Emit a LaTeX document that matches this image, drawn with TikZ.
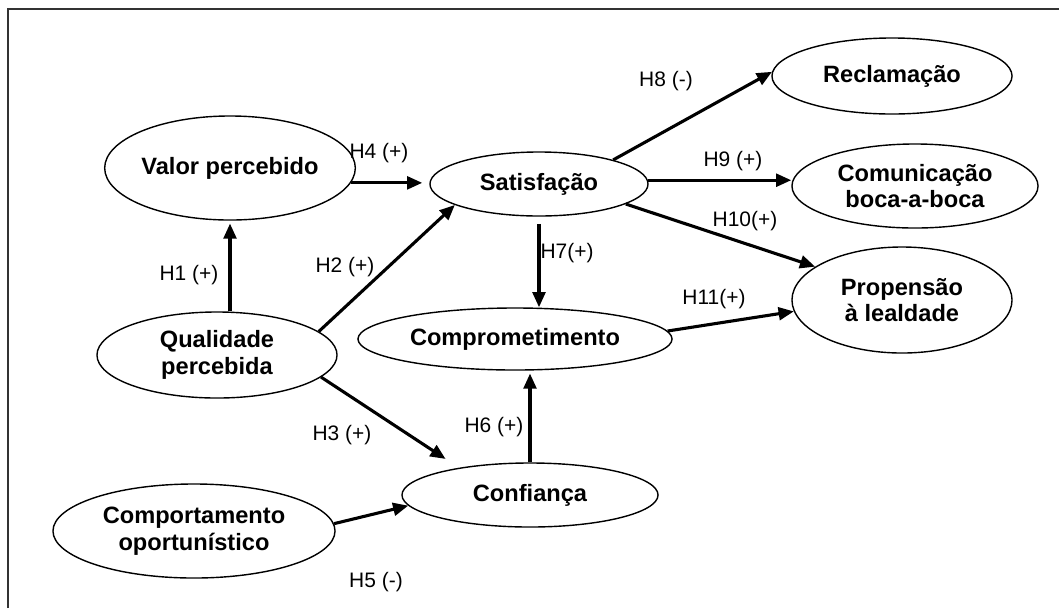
\documentclass[tikz,border=0pt]{standalone}
\usepackage{fontspec}
\setmainfont{Liberation Sans}
\usepackage{tikz}
\usetikzlibrary{shapes.geometric,arrows.meta}
\tikzset{
  every node/.style={
    font=\fontsize{14.9}{17}\selectfont
  },
  construct/.style n args={2}{
    shape=ellipse,
    draw=black,
    line width=1pt,
    minimum width=#1,
    minimum height=#2,
    inner sep=0pt,
    align=center,
    font=\bfseries\fontsize{16.8}{18.8}\selectfont
  },
  hypothesis/.style={
    -{Triangle[length=0.38cm,width=0.32cm]},
    line width=2.2pt
  },
  frame/.style={
    line width=1.4pt,
    draw=black!80
  }
}

\begin{document}
\begin{tikzpicture}[x=0.025cm,y=-0.025cm]
    \useasboundingbox (0,0) rectangle (1059,608);
    \draw[frame] (8,608) -- (8,9) -- (1059,9);

    % constructs
    \node [construct={5.55cm}{2.6cm}]  (valor)   at (230,168) {Valor percebido};
    \node [construct={6cm}{2.15cm}]    (qual)    at (217,355) {Qualidade\\percebida};
    \node [construct={5.45cm}{1.6cm}]  (sat)     at (539,184) {Satisfação};
    \node [construct={6cm}{1.9cm}]     (recl)    at (892,76)  {Reclamação};
    \node [construct={6.15cm}{2.1cm}]  (com)     at (915,186) {Comunicação\\boca-a-boca};
    \node [construct={5.5cm}{2.65cm}]  (prop)    at (902,300) {Propensão\\à lealdade};
    \node [construct={7.85cm}{1.55cm}] (compr)   at (515,339) {Comprometimento};
    \node [construct={6.4cm}{1.6cm}]   (conf)    at (530,495) {Confiança};
    \node [construct={7.05cm}{2.35cm}] (comport) at (194,531) {Comportamento\\oportunístico};

    % hypotheses
    \draw[hypothesis,shorten >=2pt] (valor.south |- qual.north) -- (valor.south);
    \draw[hypothesis] (qual.13) -- (sat.194);
    \draw[hypothesis,shorten >=0.4cm] (qual.-12) -- (conf.159);
    \draw[hypothesis,shorten >=5pt] (valor.-7) -- (valor.-7 -| sat.west);
    \draw[hypothesis] (comport.3) -- (conf.185);
    \draw[hypothesis,shorten >=2pt] (conf.north) -- (conf.north |- compr.south);
    \draw[hypothesis,shorten <=5pt] (sat.south) -- (sat.south |- compr.north);
    \draw[hypothesis] (sat.18) -- (recl.178);
    \draw[hypothesis] (sat.2) -- (sat.2 -| com.west);
    \draw[hypothesis] (sat.-13) -- (prop.159);
    \draw[hypothesis] (compr.3) -- (prop.186);

    % labels
    \node (h1)  at (189,275) {H1 (+)};
    \node (h2)  at (345,267) {H2 (+)};
    \node (h3)  at (342,435) {H3 (+)};
    \node (h4)  at (379,153) {H4 (+)};
    \node (h5)  at (376,582) {H5 (-)};
    \node (h6)  at (494,427) {H6 (+)};
    \node (h7)  at (567,253) {H7(+)};
    \node (h8)  at (666,81)  {H8 (-)};
    \node (h9)  at (733,161) {H9 (+)};
    \node (h10) at (745,221) {H10(+)};
    \node (h11) at (714,299) {H11(+)};
\end{tikzpicture}
\end{document}
